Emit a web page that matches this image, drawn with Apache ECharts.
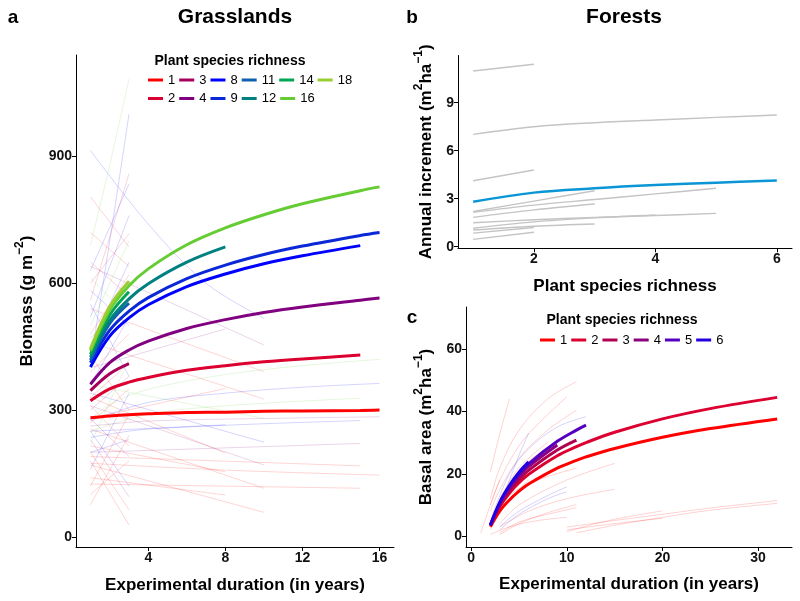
<!DOCTYPE html>
<html>
<head>
<meta charset="utf-8">
<script src="https://cdn.jsdelivr.net/npm/echarts@6/dist/echarts.min.js"></script>
<style>
  html, body { margin: 0; padding: 0; background: #fff; }
  #chart { width: 800px; height: 601px; }
</style>
</head>
<body>
<div id="chart"></div>
<script>
// ---- panel a: grasslands ----
const grassYears = [1, 2, 3, 4, 6, 8, 10, 12, 15, 16]
const grassRichness = ['1', '2', '3', '4', '8', '9', '11', '12', '14', '16', '18']
const grassFits = [
  [282, 286, 289, 291, 294, 295, 297, 298, 299, 300],
  [322, 350, 366, 377, 394, 405, 414, 421, 430],
  [346, 386, 410],
  [361, 412, 442, 463, 493, 514, 531, 544, 560, 565],
  [402, 475, 518, 549, 592, 622, 646, 665, 689],
  [412, 489, 534, 566, 611, 643, 668, 688, 713, 720],
  [418, 505, 553],
  [425, 512, 563, 599, 650, 686],
  [432, 525, 580],
  [440, 537, 594, 634, 691, 731, 762, 788, 819, 828],
  [445, 545, 605]
]
// individual experiments: [richness, [[year, biomass], ...]]
const grassPlots = [
  ['16', [[1, 277], [2, 313], [4, 349], [8, 384], [12, 405], [16, 420]]],
  ['8', [[1, 274], [4, 318], [8, 340], [12, 354], [16, 363]]],
  ['4', [[1, 262], [4, 274], [10, 280], [16, 284]]],
  ['1', [[1, 174], [8, 158], [16, 146]]],
  ['16', [[1, 250], [4, 290], [8, 310], [15, 328]]],
  ['8', [[1, 235], [4, 255], [15, 275]]],
  ['4', [[1, 200], [15, 221]]],
  ['1', [[1, 190], [15, 168]]],
  ['1', [[1, 125], [15, 115]]],
  ['8', [[1, 914], [4, 740], [7, 600], [10, 517]]],
  ['4', [[1, 640], [10, 454]]],
  ['1', [[1, 540], [10, 391]]],
  ['1', [[1, 460], [10, 326]]],
  ['16', [[1, 360], [10, 280]]],
  ['8', [[1, 340], [10, 224]]],
  ['4', [[1, 310], [10, 170]]],
  ['1', [[1, 255], [10, 115]]],
  ['1', [[1, 170], [10, 58]]],
  ['4', [[1, 400], [8, 492]]],
  ['1', [[1, 280], [8, 351]]],
  ['8', [[1, 250], [8, 265]]],
  ['1', [[1, 330], [8, 198]]],
  ['1', [[1, 215], [8, 154]]],
  ['1', [[1, 140], [8, 99]]],
  ['16', [[1, 690], [2, 880], [3, 1083]]],
  ['8', [[1, 412], [2, 700], [3, 1000]]],
  ['2', [[1, 804], [3, 686]]],
  ['2', [[1, 560], [3, 859]]],
  ['8', [[1, 630], [3, 835]]],
  ['8', [[1, 520], [3, 760]]],
  ['8', [[1, 583], [3, 500]]],
  ['16', [[1, 613], [3, 520]]],
  ['1', [[1, 720], [3, 640]]],
  ['2', [[1, 600], [3, 717]]],
  ['8', [[1, 550], [3, 380]]],
  ['1', [[1, 480], [3, 620]]],
  ['4', [[1, 470], [3, 560]]],
  ['1', [[1, 430], [3, 300]]],
  ['1', [[1, 390], [3, 480]]],
  ['8', [[1, 360], [3, 520]]],
  ['1', [[1, 330], [3, 410]]],
  ['4', [[1, 300], [3, 380]]],
  ['1', [[1, 270], [3, 350]]],
  ['8', [[1, 250], [3, 120]]],
  ['4', [[1, 230], [3, 95]]],
  ['1', [[1, 200], [3, 64]]],
  ['1', [[1, 180], [3, 28]]],
  ['1', [[1, 76], [3, 240]]],
  ['1', [[1, 120], [3, 290]]],
  ['8', [[1, 160], [3, 340]]],
  ['16', [[1, 220], [3, 420]]],
  ['4', [[1, 280], [3, 190]]],
  ['1', [[1, 310], [3, 215]]],
  ['8', [[1, 450], [3, 650]]],
  ['16', [[1, 500], [3, 700]]],
  ['2', [[1, 650], [3, 570]]],
  ['1', [[1, 100], [3, 180]]],
  ['8', [[1, 200], [3, 230]]]
]

// ---- panel b: forests, increment vs richness ----
const forestRichness = [1, 2, 3, 4, 5, 6]
const forestMean = [2.81, 3.38, 3.65, 3.85, 4.0, 4.13]
const forestPlots = [
  [10.98, 11.4],
  [7.02, 7.5, 7.75, 7.92, 8.08, 8.23],
  [4.12, 4.79],
  [2.2, 2.85, 3.5],
  [2.15, 2.6, 2.95, 3.3, 3.65],
  [1.83, 2.3, 2.67],
  [1.5, 1.68, 1.83, 1.95, 2.08],
  [1.15, 1.55, 1.8, 1.98],
  [1.04, 1.28, 1.42],
  [0.85, 1.2],
  [0.46, 0.9]
]

// ---- panel c: forests, basal area over time ----
const basalYears = [2, 3, 4, 5, 6, 9, 11, 12, 15, 20, 25, 32]
const basalRichness = ['1', '2', '3', '4', '5', '6']
const basalFits = [
  [3, 8.1, 11.6, 14.4, 16.7, 21.8, 24.3, 25.4, 28.1, 31.7, 34.5, 37.6],
  [3.5, 9.5, 13.8, 17.1, 19.8, 25.8, 28.7, 30, 33.3, 37.6, 40.9, 44.5],
  [3.5, 10, 14.6, 18.2, 21.1, 27.6, 30.8],
  [3.5, 10.4, 15.4, 19.2, 22.3, 29.2],
  [3.5, 10.8, 15.9, 19.9, 23.2, 30.4, 34, 35.6],
  [3.5, 11, 16.3, 20.5, 23.8]
]
const basalPlots = [
  ['1', [[1, 1], [2, 10], [3, 18]]],
  ['1', [[2, 20.6], [3, 33], [4, 44]]],
  ['1', [[2, 12], [3, 22], [5, 34], [8, 44], [11, 49.5]]],
  ['1', [[2, 10], [3, 18], [5, 29], [7, 36], [10, 44.7]]],
  ['1', [[2, 8], [3, 15], [5, 25], [8, 34], [11, 40.4]]],
  ['6', [[2, 5], [4, 20], [6, 28], [9, 35], [12, 38.3]]],
  ['6', [[3, 10], [4, 18], [5, 26], [6, 33]]],
  ['1', [[2, 4], [4, 13], [7, 18], [11, 21.8]]],
  ['1', [[3, 4], [5, 10], [10, 18], [15, 23.3]]],
  ['1', [[3, 3], [6, 8], [10, 12], [15, 15]]],
  ['6', [[3, 3], [5, 8], [8, 13], [10, 15.8]]],
  ['6', [[3, 2], [5, 7], [8, 12], [10, 14.2]]],
  ['1', [[3, 0.5], [5, 4], [8, 7.5], [11, 10.1]]],
  ['1', [[3, 1], [5, 4.5], [8, 7], [11, 9.1]]],
  ['1', [[2, 0.5], [4, 3], [7, 5], [10, 6]]],
  ['1', [[10, 2.9], [15, 5], [20, 7], [25, 9], [32, 11.4]]],
  ['1', [[10, 1.4], [13, 4], [16, 6], [20, 8.1]]],
  ['1', [[11, 1], [15, 3.5], [20, 6], [25, 8.3], [32, 10.5]]],
  ['1', [[10, 2], [15, 4], [20, 5.7]]],
  ['2', [[4, 15], [6, 24], [9, 30]]],
  ['1', [[2, 2], [3, 8], [4, 12], [6, 18]]],
  ['2', [[3, 12], [5, 22], [8, 30]]]
]

const FONT = '"Liberation Sans", Arial, sans-serif'
const SMOOTH = 0.35
const grassColor = {
  '1': '#FF0000', '2': '#DC0030', '3': '#A8005A', '4': '#80007F',
  '8': '#0000FF', '9': '#0A28D8', '11': '#1060B0', '12': '#008080',
  '14': '#00A651', '16': '#66CC33', '18': '#9ACD32'
}
const basalColor = {
  '1': '#FF0000', '2': '#DC0030', '3': '#B00050',
  '4': '#8B0080', '5': '#5500C0', '6': '#2000E0'
}

function fade(hex, a) {
  const n = parseInt(hex.slice(1), 16)
  return `rgba(${(n >> 16) & 255},${(n >> 8) & 255},${n & 255},${a})`
}

function axis(gridIndex, min, max, ticks, name, nameGap, extra) {
  return Object.assign({
    type: 'value',
    gridIndex,
    min,
    max,
    name,
    nameLocation: 'middle',
    nameGap,
    nameTextStyle: { fontFamily: FONT, fontSize: 17, fontWeight: 'bold', color: '#000' },
    axisLine: { show: true, onZero: false, lineStyle: { color: '#000', width: 1 } },
    axisTick: { show: true, customValues: ticks, length: 4, lineStyle: { color: '#000' } },
    axisLabel: {
      customValues: ticks,
      fontFamily: FONT,
      fontSize: 14,
      fontWeight: 'bold',
      color: '#111',
      margin: 4
    },
    splitLine: { show: false }
  }, extra || {})
}

const supRich = {
  n: { fontFamily: FONT, fontSize: 17, fontWeight: 'bold', color: '#000', lineHeight: 22, verticalAlign: 'bottom' },
  s: { fontFamily: FONT, fontSize: 12, fontWeight: 'bold', color: '#000', lineHeight: 22, verticalAlign: 'top' }
}

const series = []

grassPlots.forEach(([r, pts]) => {
  series.push({
    type: 'line', xAxisIndex: 0, yAxisIndex: 0, data: pts,
    symbol: 'none', smooth: SMOOTH, silent: true, z: 1,
    lineStyle: { color: fade(grassColor[r], 0.17), width: 1 }
  })
})
grassRichness.forEach((r, i) => {
  series.push({
    name: 'g' + r,
    type: 'line', xAxisIndex: 0, yAxisIndex: 0,
    data: grassFits[i].map((v, k) => [grassYears[k], v]),
    symbol: 'none', smooth: SMOOTH, silent: true, z: 3,
    itemStyle: { color: grassColor[r] },
    lineStyle: { color: grassColor[r], width: 3 }
  })
})

forestPlots.forEach(vals => {
  series.push({
    type: 'line', xAxisIndex: 1, yAxisIndex: 1,
    data: vals.map((v, k) => [forestRichness[k], v]),
    symbol: 'none', smooth: SMOOTH, silent: true, z: 1,
    lineStyle: { color: '#C4C4C4', width: 1.4 }
  })
})
series.push({
  type: 'line', xAxisIndex: 1, yAxisIndex: 1,
  data: forestMean.map((v, k) => [forestRichness[k], v]),
  symbol: 'none', smooth: SMOOTH, silent: true, z: 3,
  lineStyle: { color: '#0A96D4', width: 2.5 }
})

basalPlots.forEach(([r, pts]) => {
  series.push({
    type: 'line', xAxisIndex: 2, yAxisIndex: 2, data: pts,
    symbol: 'none', smooth: SMOOTH, silent: true, z: 1,
    lineStyle: { color: fade(basalColor[r], 0.18), width: 1 }
  })
})
basalRichness.forEach((r, i) => {
  series.push({
    name: 'c' + r,
    type: 'line', xAxisIndex: 2, yAxisIndex: 2,
    data: basalFits[i].map((v, k) => [basalYears[k], v]),
    symbol: 'none', smooth: SMOOTH, silent: true, z: 3,
    itemStyle: { color: basalColor[r] },
    lineStyle: { color: basalColor[r], width: 3 }
  })
})

function legend(names, left, top) {
  return {
    data: names,
    left, top,
    orient: 'horizontal',
    icon: 'rect',
    itemWidth: 15,
    itemHeight: 3,
    itemGap: 4,
    padding: 0,
    selectedMode: false,
    formatter: n => n.slice(1),
    textStyle: { fontFamily: FONT, fontSize: 13, color: '#000' }
  }
}

function label(text, x, y, size) {
  return {
    type: 'text', x, y,
    style: { text, font: `bold ${size}px ${FONT}`, fill: '#000', align: 'center', verticalAlign: 'middle' }
  }
}

const chart = echarts.init(document.getElementById('chart'), null, { renderer: 'canvas' })
chart.setOption({
  animation: false,
  backgroundColor: '#fff',
  grid: [
    { left: 76, top: 55, width: 318, height: 492 },
    { left: 458, top: 55.5, width: 334, height: 192.8 },
    { left: 466, top: 307, width: 326, height: 240 }
  ],
  xAxis: [
    axis(0, 0.25, 16.75, [4, 8, 12, 16], 'Experimental duration (in years)', 30),
    axis(1, 0.75, 6.25, [2, 4, 6], 'Plant species richness', 30),
    axis(2, -0.55, 33.55, [0, 10, 20, 30], 'Experimental duration (in years)', 29)
  ],
  yAxis: [
    axis(0, -24, 1140, [0, 300, 600, 900], '{n|Biomass (g m}{s|−2}{n|)}', 40,
      { nameTextStyle: { rich: supRich } }),
    axis(1, -0.1, 11.95, [0, 3, 6, 9], '{n|Annual increment (m}{s|2}{n|ha}{s|−1}{n|)}', 23,
      { nameTextStyle: { rich: supRich } }),
    axis(2, -3.5, 73.5, [0, 20, 40, 60], '{n|Basal area (m}{s|2}{n|ha}{s|−1}{n|)}', 31,
      { nameTextStyle: { rich: supRich } })
  ],
  legend: [
    legend(['g1', 'g3', 'g8', 'g11', 'g14', 'g18'], 148, 73.5),
    legend(['g2', 'g4', 'g9', 'g12', 'g16'], 148, 92),
    legend(['c1', 'c2', 'c3', 'c4', 'c5', 'c6'], 540, 333.5)
  ],
  graphic: [
    label('a', 13, 18, 19),
    label('Grasslands', 235, 17, 21),
    label('b', 412, 18, 19),
    label('Forests', 624, 17, 21),
    label('c', 412, 318, 19),
    label('Plant species richness', 230, 61, 14),
    label('Plant species richness', 622, 320, 14)
  ],
  series
})
</script>
</body>
</html>
